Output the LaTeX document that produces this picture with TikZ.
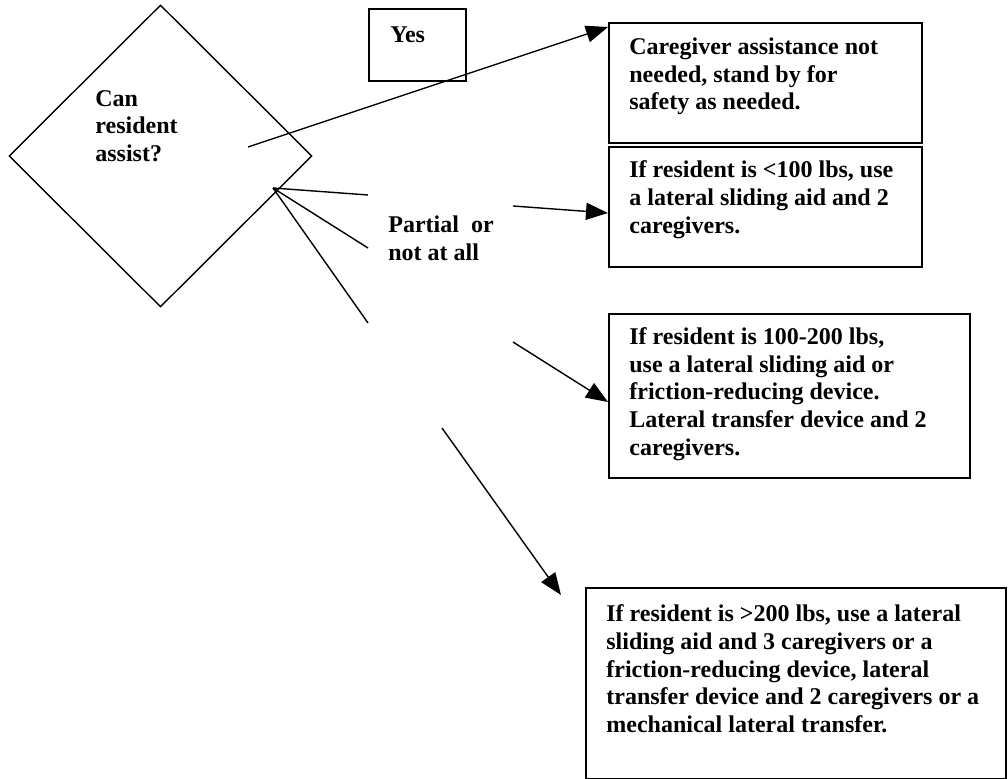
\documentclass[tikz,border=0pt]{standalone}
\usepackage{fontspec}
\setmainfont{Liberation Serif}
\usetikzlibrary{shapes.geometric,arrows.meta,calc}
\begin{document}
\begin{tikzpicture}[x=0.5pt,y=-0.5pt,
  labeltext/.style={font=\fontsize{12}{13.8}\selectfont\bfseries, align=left,
    inner sep=0pt, anchor=north west, execute at begin node=\strut},
  box/.style={draw, line width=1pt, rectangle, inner sep=0pt, anchor=north west},
  link/.style={line width=0.7pt},
  arrowlink/.style={link, -{Triangle[length=11pt,width=8.5pt]}}
]
\useasboundingbox (0,0) rectangle (1008,779);

% decision diamond
\node[draw, shape=diamond, minimum width=151.5pt, minimum height=151pt,
      inner sep=0pt, line width=0.7pt] (decision) at (160.5,156) {};
\node[labeltext] (qtext) at (95,90) {Can\\resident\\assist?};

% answer labels
\node[box, minimum width=48.5pt, minimum height=36pt] (yesbox) at (368,8) {};
\node[labeltext] (yes) at (390,22.7) {Yes};
\node[labeltext] (partial) at (388,215.7) {Partial\ \ or\\not at all};

% outcome boxes
\node[box, minimum width=156.5pt, minimum height=60pt] (box1) at (608,22) {};
\node[labeltext] (t1) at (629,37.7) {Caregiver assistance not\\needed, stand by for\\safety as needed.};

\node[box, minimum width=156.5pt, minimum height=60pt] (box2) at (608,146) {};
\node[labeltext] (t2) at (629,160.7) {If resident is <100 lbs, use\\a lateral sliding aid and 2\\caregivers.};

\node[box, minimum width=180.5pt, minimum height=82pt] (box3) at (608,313) {};
\node[labeltext] (t3) at (629,327.4) {If resident is 100-200 lbs,\\use a lateral sliding aid or\\friction-reducing device.\\Lateral transfer device and 2\\caregivers.};

\node[box, minimum width=210pt, minimum height=95.5pt] (box4) at (585,587) {};
\node[labeltext] (t4) at (606,604.7) {If resident is >200 lbs, use a lateral\\sliding aid and 3 caregivers or a\\friction-reducing device, lateral\\transfer device and 2 caregivers or a\\mechanical lateral transfer.};

% "yes" branch
\coordinate (yesfrom) at (248,147);
\draw[arrowlink] (yesfrom) -- ([yshift=-2.5pt]box1.north west);

% "partial or not at all" fork
\coordinate (fork) at (273,188);
\coordinate (forkA) at (368,195);
\coordinate (forkB) at (368,248);
\coordinate (forkC) at (368,323);
\draw[link] (fork) -- (forkA);
\draw[link] (fork) -- (forkB);
\draw[link] (fork) -- (forkC);

% weight-dependent arrows
\coordinate (from2) at (513,206);
\draw[arrowlink] (from2) -- ([yshift=-3pt]box2.west);
\coordinate (from3) at (513,342);
\draw[arrowlink] (from3) -- ([yshift=-3pt]box3.west);
\coordinate (from4) at (442,428);
\draw[arrowlink] (from4) -- ([shift={(-24,8)}]box4.north west);
\end{tikzpicture}
\end{document}
